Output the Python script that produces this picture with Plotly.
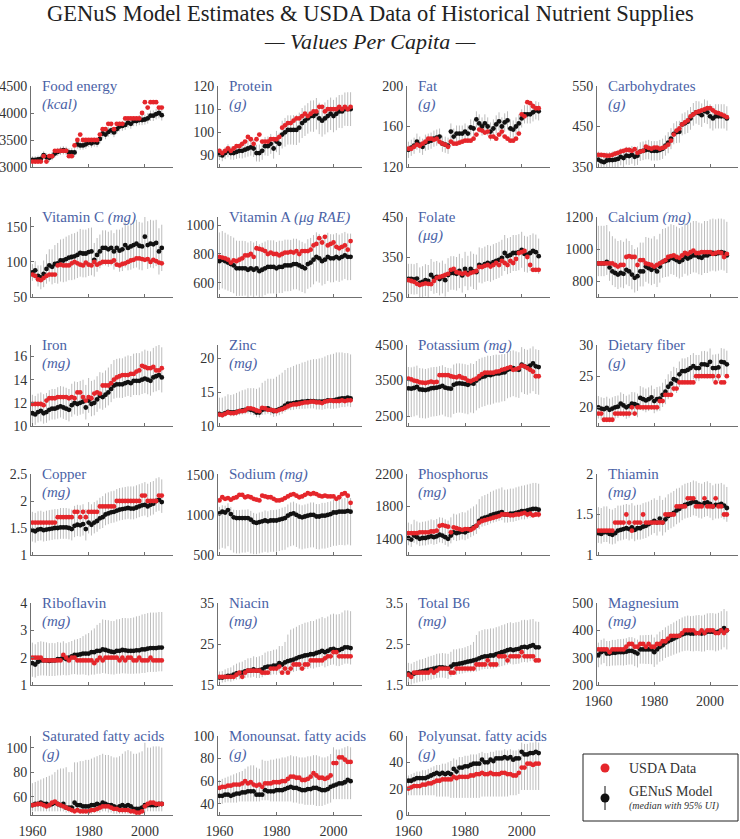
import plotly.graph_objects as go

years = list(range(1960, 2007))

# ---------------- data ----------------
food_energy_usda = [3100,3100,3100,3100,3200,3100,3200,3200,3300,3300,
                    3300,3300,3300,3200,3200,3400,3500,3600,3500,3500,
                    3500,3500,3500,3500,3600,3700,3700,3800,3800,3700,
                    3800,3800,3800,3900,3900,3900,3900,3900,3900,4000,
                    4200,4100,4200,4200,4200,4100,4100]
food_energy_med = [3130,3130,3140,3150,3220,3180,3170,3200,3250,3280,
                   3300,3310,3300,3270,3270,3270,3420,3400,3400,3420,
                   3450,3440,3460,3450,3520,3620,3600,3650,3680,3640,
                   3700,3750,3760,3780,3820,3800,3850,3850,3870,3870,
                   3880,3900,3950,3950,3980,4000,3960]
food_energy_err = [70,70,70,72,72,72,74,74,74,75,
                   75,76,76,76,78,78,80,80,80,82,
                   82,82,84,84,85,86,86,88,88,88,
                   90,90,90,92,92,92,94,94,94,95,
                   95,96,96,98,98,100,100]

protein_usda = [92,91,92,93,92,93,94,94,95,96,
                98,97,95,97,99,96,96,96,97,97,
                97,98,102,103,104,104,105,106,106,107,
                108,107,108,109,109,111,111,109,110,110,
                110,110,111,110,111,110,111]
protein_med = [90.5,90,91,92,91,91,91.5,92,92,92.5,
               93,93.5,93,91,91,92,94,94,95,93,
               96,95,99,100,101,101,101,101,102,104,
               105,106,107,107,108,106,105,106,107,108,
               107,108,109,109,110,110,110]
protein_err = [2.5,2.5,2.6,2.8,2.8,2.9,3.0,3.2,3.3,3.4,
               3.5,3.6,3.7,3.6,3.7,3.9,4.0,4.2,4.3,4.4,
               4.6,4.8,6.0,6.2,6.3,6.3,6.4,6.5,6.5,6.5,
               6.6,6.6,6.7,6.8,6.8,6.8,6.9,6.9,7.0,7.0,
               7.0,7.1,7.1,7.2,7.2,7.3,7.3]

fat_usda = [138,138,140,142,141,143,145,148,148,147,
            148,145,143,142,140,145,143,143,144,145,
            146,146,146,148,152,157,156,154,155,150,
            150,148,152,155,150,148,146,146,148,153,
            172,170,184,183,180,178,178]
fat_med = [137,139,141,145,142,140,144,145,146,148,
           149,150,143,142,141,155,150,153,153,153,
           155,153,159,158,167,163,160,163,160,155,
           158,162,165,160,164,166,158,157,160,163,
           168,172,172,172,174,176,175]
fat_err = [8,8,8,8,8,8,8,8,8,8,
           8,8,8,8,8,8,8,8,8,8,
           8,8,8,8,8,9,9,9,9,9,
           9,9,9,9,9,9,9,9,9,9,
           9,9,9,9,9,9,9]

carb_usda = [380,380,379,378,378,380,383,385,388,390,
             392,392,390,394,385,388,390,400,397,395,
             398,398,395,397,400,405,415,430,440,445,
             455,460,465,475,480,485,487,490,492,495,
             495,490,485,483,480,477,473]
carb_med = [368,364,362,366,367,367,368,370,375,372,
            378,377,380,375,378,388,390,392,393,390,
            390,390,392,395,403,410,420,432,436,437,
            455,458,462,470,480,485,483,478,488,485,
            475,470,475,475,475,475,470]
carb_err = [20,20,20,20,20,21,21,21,21,22,
            22,22,22,22,23,23,23,23,24,24,
            24,24,25,25,25,26,26,26,27,27,
            27,27,28,28,28,28,29,29,29,29,
            30,30,30,30,30,30,30]

vitc_usda = [82,80,75,74,77,80,82,82,82,95,
             96,95,95,95,98,100,98,96,95,99,
             96,95,100,96,98,100,100,100,100,102,
             96,95,97,98,100,102,103,105,105,104,
             103,104,100,103,101,99,98]
vitc_med = [85,88,80,78,83,90,95,93,97,98,
            102,102,104,106,107,108,110,113,112,112,
            114,115,103,110,115,120,120,118,120,115,
            120,116,118,124,120,122,124,126,123,122,
            136,124,126,125,127,115,120]
vitc_err = [12,13,15,17,19,21,23,25,27,29,
            30,31,32,32,33,33,33,34,34,34,
            34,34,24,24,24,25,25,25,25,26,
            26,30,31,32,32,33,33,34,34,34,
            34,34,34,34,33,33,33]

vita_usda = [780,775,770,760,740,755,750,760,770,790,
             790,800,780,840,835,830,820,800,810,800,
             800,790,800,810,810,815,810,820,800,820,
             820,820,830,860,870,910,880,920,860,870,
             880,850,840,850,860,830,890]
vita_med = [750,760,750,740,730,720,700,700,700,700,
            690,700,690,700,680,690,700,710,710,710,
            700,710,710,720,720,720,730,730,720,710,
            700,730,740,760,780,770,750,760,780,770,
            770,780,770,780,790,780,780]
vita_err = [200,200,198,196,195,194,193,192,192,190,
            190,190,190,190,188,188,187,186,185,185,
            184,183,182,180,180,178,177,176,175,175,
            174,173,172,172,171,170,170,170,168,168,
            167,166,165,165,164,163,162]

folate_usda = [292,290,288,283,280,282,284,283,282,290,
               298,300,302,305,308,318,320,312,310,308,
               310,306,310,312,315,325,325,328,330,326,
               330,335,330,340,335,330,340,335,345,360,
               362,365,350,330,318,318,318]
folate_med = [295,295,294,296,285,288,292,290,305,298,
              300,295,300,292,305,310,310,308,315,304,
              320,310,320,314,312,330,328,332,335,333,
              337,340,343,348,360,352,355,360,360,362,
              368,358,356,360,365,362,352]
folate_err = [38,38,38,39,39,39,40,40,40,40,
              40,41,41,41,42,42,42,42,43,43,
              43,43,44,44,44,44,44,44,45,45,
              45,45,45,45,45,45,45,45,45,45,
              45,45,45,45,44,44,44]

calcium_usda = [910,910,910,910,910,910,900,890,900,900,
                950,955,950,950,900,930,930,910,905,900,
                890,900,910,920,930,950,955,960,950,945,
                960,975,970,980,990,975,975,980,980,980,
                980,970,975,980,975,950,970]
calcium_med = [910,910,910,920,885,860,850,840,850,845,
               870,860,840,820,830,860,860,890,880,870,
               880,860,890,920,925,930,945,940,930,920,
               930,950,940,950,960,960,950,945,960,960,
               970,975,970,975,980,975,960]
calcium_up = [235,235,235,230,225,220,215,210,205,200,
              195,190,185,180,180,180,180,185,190,195,
              200,200,205,205,205,210,210,210,210,210,
              210,210,215,215,215,215,215,215,215,215,
              215,215,215,215,210,210,210]
calcium_dn = [80,80,80,82,84,86,88,90,90,90,
              92,92,92,92,92,94,94,95,96,96,
              98,98,100,100,100,102,102,102,104,104,
              104,105,106,106,106,108,108,108,110,110,
              110,110,110,110,110,110,110]

iron_usda = [11.9,11.9,11.9,11.9,11.8,12.2,12.4,12.4,12.4,12.5,
             12.5,12.5,12.5,12.4,12.5,12.4,12.9,12.9,12.5,12.2,
             12.5,12.4,12.8,12.9,12.8,13.5,13.5,13.5,13.7,14.0,
             14.2,14.3,14.4,14.4,14.4,14.5,14.5,14.7,14.8,15.2,
             15.1,15.0,15.0,15.1,14.8,14.8,15.0]
iron_med = [11.1,11.0,11.2,11.3,11.1,11.2,11.4,11.5,11.5,11.6,
            11.7,11.6,11.5,11.4,11.8,12.0,11.9,12.0,12.1,11.6,
            12.2,11.9,12.0,12.3,12.6,12.5,12.7,12.9,13.2,13.5,
            13.6,13.6,13.6,13.7,13.8,13.7,13.9,13.9,13.9,14.0,
            14.1,14.0,13.9,14.2,14.3,14.4,14.2]
iron_up = [1.6,1.6,1.6,1.6,1.65,1.65,1.7,1.7,1.7,1.75,
           1.75,1.8,1.8,1.8,1.85,1.85,1.9,1.9,1.9,1.95,
           1.95,2.0,2.0,2.0,2.05,2.1,2.1,2.15,2.15,2.2,
           2.2,2.25,2.25,2.3,2.3,2.35,2.35,2.4,2.4,2.45,
           2.5,2.5,2.55,2.55,2.6,2.6,2.6]
iron_dn = [0.9,0.9,0.9,0.9,0.9,0.92,0.92,0.94,0.94,0.96,
           0.96,0.98,0.98,1.0,1.0,1.0,1.02,1.02,1.04,1.04,
           1.06,1.06,1.08,1.08,1.1,1.1,1.12,1.12,1.14,1.14,
           1.16,1.16,1.18,1.18,1.2,1.2,1.22,1.22,1.24,1.24,
           1.26,1.26,1.28,1.28,1.3,1.3,1.3]

zinc_usda = [11.7,11.6,11.8,12.0,11.9,11.9,12.0,12.2,12.2,12.3,
             12.6,12.6,12.5,12.3,12.2,12.7,12.6,12.4,12.4,12.3,
             12.2,12.4,12.5,12.7,12.9,13.1,13.2,13.2,13.3,13.4,
             13.5,13.5,13.6,13.6,13.5,13.5,13.4,13.6,13.7,13.8,
             13.7,13.7,13.7,13.8,13.7,13.8,13.8]
zinc_med = [11.8,11.7,11.9,12.1,12.0,12.0,12.1,12.2,12.3,12.4,
            12.5,12.4,12.3,12.0,12.0,12.4,12.5,12.6,12.4,12.2,
            12.3,12.5,12.7,13.0,13.3,13.3,13.4,13.5,13.5,13.6,
            13.6,13.7,13.7,13.7,13.6,13.6,13.6,13.7,13.8,13.8,
            13.8,13.9,14.0,14.1,14.1,14.2,14.1]
zinc_up = [2.4,2.5,2.5,2.6,2.6,2.7,2.8,2.9,3.0,3.0,
           3.1,3.2,3.3,3.5,3.7,4.0,4.2,4.4,4.6,4.8,
           5.0,5.1,5.2,5.3,5.3,5.4,5.5,5.6,5.7,5.8,
           5.9,6.0,6.1,6.2,6.3,6.4,6.5,6.6,6.7,6.8,
           6.9,7.0,6.9,6.8,6.7,6.6,6.5]
zinc_dn = [0.5,0.5,0.5,0.5,0.55,0.55,0.6,0.6,0.6,0.65,
           0.65,0.7,0.7,0.7,0.75,0.75,0.8,0.8,0.8,0.85,
           0.85,0.9,0.9,0.9,0.95,0.95,1.0,1.0,1.0,1.05,
           1.05,1.1,1.1,1.1,1.15,1.15,1.2,1.2,1.2,1.25,
           1.25,1.3,1.3,1.3,1.3,1.3,1.3]

potassium_usda = [3550,3530,3500,3480,3450,3440,3430,3450,3470,3450,
                  3460,3650,3650,3650,3650,3620,3600,3590,3620,3580,
                  3560,3500,3480,3520,3550,3620,3680,3720,3720,3720,
                  3720,3750,3760,3800,3820,3850,3880,3800,3820,3850,
                  3920,3900,3850,3800,3750,3620,3620]
potassium_med = [3280,3270,3290,3320,3250,3240,3230,3250,3280,3290,
                 3300,3320,3350,3300,3280,3270,3380,3410,3420,3410,
                 3400,3380,3430,3410,3500,3560,3600,3620,3660,3650,
                 3680,3700,3700,3720,3730,3800,3830,3850,3820,3800,
                 3950,3900,3880,3920,3980,3900,3880]
potassium_up = [600,600,600,600,600,600,595,595,590,590,
                585,585,580,580,575,575,570,570,565,565,
                560,560,555,555,550,550,545,545,540,540,
                535,530,525,520,515,510,505,500,500,495,
                490,490,485,485,480,480,480]
potassium_dn = [800,800,800,800,800,800,800,800,800,800,
                800,800,810,810,810,810,820,820,820,820,
                830,830,830,830,840,840,840,840,840,830,
                830,820,820,810,810,800,800,790,790,790,
                780,780,780,780,780,780,780]

fiber_usda = [19,19,18,18,18,18,19,19,19,19,
              19,19,20,19,20,20,20,20,20,20,
              20,20,21,21,22,22,22,23,23,24,
              24,24,24,24,24,25,25,25,25,25,
              25,25,24,25,24,24,25]
fiber_med = [20.0,19.8,19.7,19.9,19.6,19.8,20.0,20.1,20.6,20.3,
             20.0,20.2,20.6,20.5,20.3,21.5,21.3,21.1,21.3,21.6,
             21.0,21.3,21.4,22.0,22.5,23.3,23.8,24.5,24.3,25.3,
             25.8,25.8,26.0,26.3,26.6,26.3,26.3,26.9,26.9,26.8,
             27.3,26.3,26.3,26.4,27.3,27.2,26.9]
fiber_err = [1.8,1.8,1.8,1.8,1.8,1.8,1.8,1.8,1.8,1.85,
             1.85,1.85,1.85,1.9,1.9,1.9,1.9,1.9,1.9,1.9,
             1.95,1.95,1.95,1.95,2.0,2.0,2.0,2.0,2.0,2.05,
             2.05,2.05,2.05,2.1,2.1,2.1,2.1,2.1,2.15,2.15,
             2.15,2.15,2.2,2.2,2.2,2.2,2.2]

copper_usda = [1.6,1.6,1.6,1.6,1.6,1.6,1.6,1.6,1.6,1.7,
               1.7,1.7,1.7,1.7,1.7,1.8,1.8,1.7,1.8,1.7,
               1.8,1.8,1.8,1.8,1.9,1.9,1.9,1.9,1.9,1.9,
               2.0,2.0,2.0,2.0,2.0,2.0,2.0,2.0,2.0,2.1,
               2.1,2.0,2.0,2.0,2.0,2.1,2.1]
copper_med = [1.46,1.44,1.47,1.48,1.46,1.47,1.48,1.49,1.50,1.50,
              1.51,1.51,1.51,1.50,1.48,1.54,1.56,1.55,1.57,1.48,
              1.60,1.56,1.60,1.63,1.68,1.70,1.75,1.77,1.79,1.80,
              1.82,1.84,1.85,1.86,1.87,1.86,1.86,1.88,1.90,1.92,
              1.93,1.90,1.93,1.95,2.00,2.02,1.98]
copper_up = [0.34,0.34,0.34,0.34,0.34,0.35,0.35,0.35,0.35,0.35,
             0.36,0.36,0.36,0.36,0.36,0.37,0.37,0.37,0.37,0.37,
             0.38,0.38,0.38,0.38,0.38,0.39,0.39,0.39,0.39,0.39,
             0.40,0.40,0.40,0.40,0.40,0.41,0.41,0.41,0.41,0.41,
             0.42,0.42,0.42,0.42,0.42,0.42,0.42]
copper_dn = [0.21,0.21,0.21,0.21,0.21,0.21,0.21,0.21,0.21,0.21,
             0.21,0.21,0.21,0.21,0.21,0.21,0.21,0.21,0.21,0.21,
             0.20,0.20,0.20,0.20,0.20,0.20,0.20,0.20,0.20,0.20,
             0.20,0.20,0.20,0.20,0.20,0.20,0.20,0.20,0.20,0.20,
             0.20,0.20,0.20,0.20,0.20,0.20,0.20]

sodium_usda = [1180,1220,1200,1210,1190,1210,1220,1250,1250,1220,
               1230,1220,1200,1190,1180,1240,1230,1220,1220,1200,
               1180,1180,1190,1210,1230,1250,1260,1240,1220,1230,
               1250,1270,1260,1270,1260,1240,1230,1240,1230,1230,
               1230,1200,1220,1260,1270,1240,1150]
sodium_med = [1020,1040,1030,1060,1010,970,960,960,960,960,
              960,940,910,900,910,920,930,920,930,930,
              930,940,950,960,990,1010,1020,1000,980,970,
              980,990,1000,1000,980,980,990,990,1000,1010,
              1030,1030,1040,1040,1040,1050,1040]
sodium_up = [80,80,85,85,90,95,100,100,105,105,
             110,110,115,115,120,120,125,125,130,130,
             135,135,140,140,140,145,145,145,150,150,
             150,150,155,155,155,155,160,160,160,160,
             165,165,165,165,170,170,170]
sodium_dn = [450,450,450,450,450,440,440,440,430,430,
             420,420,400,390,390,390,390,390,390,390,
             390,390,390,395,395,400,400,400,400,400,
             400,405,405,405,405,410,410,410,410,410,
             415,415,415,415,420,420,420]

phosphorus_usda = [1470,1470,1470,1470,1480,1480,1480,1480,1490,1490,
                   1500,1560,1570,1560,1550,1480,1540,1530,1520,1510,
                   1520,1520,1510,1530,1560,1600,1620,1630,1640,1650,
                   1660,1670,1680,1700,1700,1700,1690,1690,1700,1700,
                   1710,1720,1700,1710,1690,1700,1700]
phosphorus_med = [1410,1390,1440,1420,1400,1410,1410,1420,1430,1420,
                  1430,1450,1440,1420,1400,1440,1480,1470,1480,1490,
                  1480,1500,1520,1540,1560,1620,1650,1660,1670,1690,
                  1700,1710,1720,1730,1700,1700,1710,1710,1720,1730,
                  1740,1740,1750,1760,1770,1770,1760]
phosphorus_up = [190,190,195,195,200,200,205,205,210,210,
                 215,215,220,220,225,225,230,230,235,240,
                 245,250,255,260,265,270,275,280,285,290,
                 295,300,300,305,305,310,310,310,315,315,
                 315,320,320,320,320,320,320]
phosphorus_dn = [90,90,90,90,90,92,92,92,92,94,
                 94,94,94,96,96,96,96,98,98,98,
                 98,100,100,100,100,100,100,100,100,100,
                 100,100,100,100,100,100,100,100,100,100,
                 100,100,100,100,100,100,100]

thiamin_usda = [1.3,1.3,1.3,1.3,1.3,1.3,1.4,1.4,1.4,1.4,
                1.5,1.4,1.3,1.4,1.4,1.4,1.5,1.4,1.4,1.4,
                1.4,1.4,1.4,1.4,1.5,1.5,1.5,1.5,1.6,1.6,
                1.6,1.6,1.7,1.7,1.7,1.6,1.6,1.6,1.7,1.6,
                1.6,1.6,1.7,1.6,1.6,1.5,1.5]
thiamin_med = [1.27,1.26,1.28,1.28,1.26,1.25,1.27,1.30,1.31,1.32,
               1.33,1.32,1.34,1.31,1.33,1.33,1.35,1.36,1.38,1.40,
               1.42,1.40,1.45,1.40,1.44,1.48,1.50,1.52,1.55,1.57,
               1.60,1.62,1.63,1.64,1.66,1.65,1.63,1.62,1.64,1.65,
               1.63,1.60,1.62,1.62,1.63,1.61,1.58]
thiamin_up = [0.32,0.32,0.32,0.32,0.31,0.31,0.31,0.31,0.30,0.30,
              0.30,0.30,0.30,0.30,0.29,0.29,0.29,0.29,0.28,0.28,
              0.28,0.28,0.28,0.28,0.27,0.27,0.27,0.27,0.27,0.26,
              0.26,0.26,0.26,0.26,0.26,0.26,0.26,0.26,0.26,0.26,
              0.26,0.26,0.26,0.26,0.26,0.26,0.26]
thiamin_dn = [0.12,0.12,0.12,0.12,0.12,0.12,0.13,0.13,0.13,0.13,
              0.13,0.14,0.14,0.14,0.14,0.14,0.15,0.15,0.15,0.15,
              0.15,0.16,0.16,0.16,0.16,0.17,0.17,0.17,0.17,0.17,
              0.17,0.17,0.17,0.17,0.17,0.17,0.17,0.17,0.17,0.17,
              0.17,0.17,0.17,0.17,0.17,0.17,0.17]

riboflavin_usda = [2.0,2.0,2.0,2.0,1.9,1.9,1.9,1.9,1.9,1.9,
                   1.9,2.1,2.0,1.9,2.0,2.0,1.9,1.9,1.9,1.9,
                   1.9,1.9,1.8,1.9,2.0,1.9,2.0,2.0,2.0,2.0,
                   2.0,1.9,2.0,1.9,2.0,2.0,1.9,1.9,2.0,1.9,
                   1.9,1.9,2.0,1.9,1.9,1.9,1.9]
riboflavin_med = [1.8,1.75,1.85,1.9,1.9,1.9,1.88,1.9,1.9,1.95,
                  1.95,2.0,1.95,2.0,2.05,2.1,2.1,2.12,2.15,2.15,
                  2.15,2.2,2.2,2.25,2.25,2.3,2.28,2.25,2.22,2.2,
                  2.25,2.25,2.28,2.27,2.25,2.25,2.25,2.27,2.27,2.3,
                  2.3,2.33,2.35,2.35,2.35,2.37,2.37]
riboflavin_up = [0.75,0.74,0.72,0.70,0.68,0.66,0.65,0.64,0.63,0.62,
                 0.60,0.60,0.58,0.57,0.56,0.56,0.58,0.60,0.64,0.70,
                 0.75,0.80,0.87,0.95,1.02,1.10,1.10,1.12,1.12,1.14,
                 1.15,1.16,1.17,1.18,1.19,1.20,1.22,1.24,1.26,1.28,
                 1.30,1.30,1.30,1.30,1.30,1.30,1.30]
riboflavin_dn = [0.50,0.48,0.52,0.55,0.55,0.56,0.55,0.57,0.57,0.60,
                 0.60,0.63,0.60,0.64,0.66,0.70,0.72,0.74,0.76,0.78,
                 0.80,0.82,0.82,0.84,0.84,0.86,0.86,0.85,0.83,0.82,
                 0.84,0.84,0.85,0.85,0.84,0.84,0.84,0.85,0.85,0.86,
                 0.86,0.86,0.87,0.87,0.87,0.87,0.87]

niacin_usda = [17,17,17,17,17,17,17.5,18,17,18,
               18.5,18.5,18.5,18.5,18.5,18,18,18,19,19,
               19,19.5,18,19,18,19,20,20,20,19,
               20,20,21,21,21,21,21,21.5,22,22,
               23,23,22,22,22,22,22]
niacin_med = [16.8,16.8,17.0,17.2,17.2,17.5,17.8,17.9,18.0,18.3,
              18.5,18.5,18.8,18.5,18.6,18.8,19.3,19.5,19.5,19.7,
              19.7,20.3,20.0,20.5,20.8,21.0,21.2,21.5,21.8,22.0,
              22.2,22.3,22.5,22.5,22.8,23.0,23.3,23.0,23.3,23.7,
              23.8,23.5,23.5,23.8,24.2,24.2,24.0]
niacin_up = [1.5,1.6,1.8,1.9,2.1,2.3,2.4,2.6,2.7,2.8,
             3.0,3.1,3.2,3.3,3.4,3.5,3.6,3.7,3.8,3.9,
             4.0,4.2,4.5,5.0,6.5,7.5,7.6,7.7,7.8,7.9,
             8.0,8.0,8.1,8.1,8.2,8.2,8.3,8.3,8.4,8.5,
             8.6,8.7,8.8,8.9,9.0,9.0,9.0]
niacin_dn = [1.2,1.2,1.3,1.3,1.4,1.4,1.5,1.5,1.6,1.6,
             1.7,1.7,1.8,1.8,1.9,1.9,2.0,2.0,2.1,2.1,
             2.2,2.3,2.4,2.5,2.7,2.9,3.0,3.1,3.2,3.3,
             3.3,3.4,3.4,3.5,3.5,3.6,3.6,3.7,3.7,3.8,
             3.8,3.8,3.9,3.9,4.0,4.0,4.0]

b6_usda = [1.75,1.7,1.8,1.8,1.8,1.8,1.8,1.8,1.85,1.8,
           1.85,1.9,1.9,1.9,1.9,1.8,1.8,1.9,1.9,1.9,
           1.9,1.9,1.9,1.9,2.0,2.0,2.0,2.0,2.1,2.0,
           2.0,2.0,2.2,2.2,2.2,2.1,2.2,2.2,2.2,2.2,
           2.3,2.2,2.2,2.2,2.2,2.1,2.1]
b6_med = [1.78,1.75,1.78,1.8,1.82,1.83,1.85,1.87,1.88,1.9,
          1.92,1.93,1.93,1.92,1.9,1.95,2.0,2.0,2.02,2.03,
          2.05,2.07,2.08,2.1,2.12,2.15,2.18,2.2,2.2,2.22,
          2.22,2.25,2.27,2.3,2.32,2.35,2.37,2.35,2.37,2.38,
          2.42,2.43,2.42,2.45,2.47,2.42,2.42]
b6_up = [0.26,0.27,0.28,0.29,0.30,0.30,0.31,0.32,0.33,0.33,
         0.34,0.34,0.35,0.35,0.36,0.36,0.37,0.37,0.37,0.37,
         0.37,0.38,0.40,0.45,0.60,0.66,0.66,0.66,0.66,0.66,
         0.66,0.66,0.66,0.66,0.66,0.66,0.66,0.66,0.66,0.66,
         0.66,0.66,0.66,0.65,0.64,0.63,0.62]
b6_dn = [0.24,0.24,0.24,0.24,0.24,0.24,0.24,0.25,0.25,0.25,
         0.25,0.25,0.25,0.25,0.25,0.25,0.25,0.25,0.25,0.25,
         0.25,0.26,0.27,0.28,0.29,0.30,0.30,0.31,0.31,0.32,
         0.32,0.33,0.33,0.34,0.34,0.35,0.35,0.35,0.36,0.36,
         0.37,0.37,0.37,0.37,0.37,0.37,0.37]

magnesium_usda = [330,330,330,330,320,330,330,330,330,330,
                  340,350,350,340,340,350,350,340,350,340,
                  340,350,350,360,360,370,380,380,380,380,
                  390,400,400,400,400,390,390,400,390,400,
                  400,400,390,390,400,390,400]
magnesium_med = [310,320,325,315,315,318,318,320,320,320,
                 322,325,325,320,315,330,330,330,330,330,
                 320,330,340,345,355,360,365,370,375,380,
                 385,388,390,388,388,390,390,388,390,395,
                 395,395,392,395,400,408,400]
magnesium_err = [45,45,45,46,46,47,47,48,48,49,
                 49,50,50,51,51,52,52,53,53,54,
                 54,55,55,56,56,57,58,59,60,61,
                 62,63,64,64,65,65,66,66,67,67,
                 68,68,69,69,70,70,70]

satfat_usda = [53,53.5,54,54,53,52,53,55,56,54,
               53,52,51,50,49,48,49,48,48,48,
               48,49,49,50,51,52,52,52,51,50,
               50,49,49,49,49,48,48,47,47,48,
               52,54,55,55,54,54,54]
satfat_med = [53,54,54,55,54,54,53,54,55,54,
              53,54,51,51,51,55,53,53,52,52,
              52,53,53,54,53,55,54,53,53,52,
              51,52,53,52,53,52,50,50,50,51,
              53,53,53,53,53,54,54]
satfat_ui_hi = [71,72,73,74,75,76,77,78,80,82,
                83,83,84,80,80,88,88,89,89,90,
                90,91,92,93,94,95,94,94,93,92,
                92,93,95,97,98,97,95,95,96,97,
                104,100,100,101,101,101,100]
satfat_ui_lo = [48,48,48,48,48,48,48,48,48,48,
                48,48,47,47,47,47,47,46,46,46,
                46,46,47,47,47,48,48,47,47,46,
                46,46,46,46,46,46,45.5,45.5,45.5,46,
                47,48,48,48,48,48,48]

mufa_usda = [54,55,55,56,56,57,57,57,58,60,
             58,59,57,56,57,55,58,58,58,59,
             59,59,60,60,62,64,64,63,63,61,
             61,62,64,67,65,63,63,62,63,65,
             76,76,81,81,79,77,77]
mufa_med = [47,47,48,48,47,48,49,49,50,50,
            51,51,51,48,48,48,52,51,51,51,
            52,52,52,53,54,55,54,54,53,52,
            52,53,53,54,54,53,52,52,53,55,
            56,57,58,58,59,61,60]
mufa_ui_hi = [61,62,63,64,65,66,67,68,69,71,
              73,74,74,72,71,79,78,78,79,79,
              80,80,81,81,82,83,82,82,81,81,
              81,82,82,83,83,82,81,81,82,84,
              90,88,88,89,90,91,90]
mufa_ui_lo = [40,40,41,41,41,41,41,42,42,42,
              42,42,42,42,42,43,43,43,42,42,
              42,42,42,42,42,42,41,41,40,40,
              39,39,39,39,38,38,38,39,40,41,
              44,44,44,44,44,44,44]

pufa_usda = [20,21,22,22,22,23,23,24,24,25,
             26,26,27,27,27,27,29,28,29,29,
             29,29,30,30,31,31,32,31,31,32,
             31,31,31,32,32,31,31,30,30,32,
             36,36,39,39,38,39,39]
pufa_med = [26,26,27,28,28,28,28,29,30,31,
            32,31,32,31,32,31,35,33,36,36,
            37,37,38,39,39,39,42,40,40,42,
            41,43,43,43,44,43,44,42,43,43,
            48,46,46,47,47,48,47]
pufa_ui_hi = [30,31,32,33,33,34,34,35,36,37,
              38,38,39,39,40,41,43,42,44,44,
              45,45,46,46,46,47,48,47,47,48,
              48,49,49,49,50,49,50,49,49,50,
              55,54,54,55,55,56,55]
pufa_ui_lo = [15,15,15,15,15,15,15,15,15,15,
              14,14,14,14,14,13,13,13,13,13,
              13,13,13,13,13,13,14,14,14,14,
              14,14,14,14,14,14,15,15,15,16,
              19,19,19,19,19,19,19]

satfat_up = [h - m for h, m in zip(satfat_ui_hi, satfat_med)]
satfat_dn = [m - l for m, l in zip(satfat_med, satfat_ui_lo)]
mufa_up = [h - m for h, m in zip(mufa_ui_hi, mufa_med)]
mufa_dn = [m - l for m, l in zip(mufa_med, mufa_ui_lo)]
pufa_up = [h - m for h, m in zip(pufa_ui_hi, pufa_med)]
pufa_dn = [m - l for m, l in zip(pufa_med, pufa_ui_lo)]

panel_names = ["Food energy", "Protein", "Fat", "Carbohydrates",
               "Vitamin C", "Vitamin A", "Folate", "Calcium",
               "Iron", "Zinc", "Potassium", "Dietary fiber",
               "Copper", "Sodium", "Phosphorus", "Thiamin",
               "Riboflavin", "Niacin", "Total B6", "Magnesium",
               "Saturated fatty acids", "Monounsat. fatty acids", "Polyunsat. fatty acids"]
panel_units = ["(kcal)", "(g)", "(g)", "(g)",
               "(mg)", "(μg RAE)", "(μg)", "(mg)",
               "(mg)", "(mg)", "(mg)", "(g)",
               "(mg)", "(mg)", "(mg)", "(mg)",
               "(mg)", "(mg)", "(mg)", "(mg)",
               "(g)", "(g)", "(g)"]
unit_inline = [False, False, False, False,
               True, True, False, True,
               False, False, True, False,
               False, True, False, False,
               False, False, False, False,
               False, False, False]
panel_yticks = [[3000, 3500, 4000, 4500], [90, 100, 110, 120], [120, 160, 200], [350, 450, 550],
                [50, 100, 150], [600, 800, 1000], [250, 350, 450], [800, 1000, 1200],
                [10, 12, 14, 16], [10, 15, 20], [2500, 3500, 4500], [20, 25, 30],
                [1, 1.5, 2, 2.5], [500, 1000, 1500], [1400, 1800, 2200], [1, 1.5, 2],
                [1, 2, 3, 4], [15, 25, 35], [1.5, 2.5, 3.5], [200, 300, 400, 500],
                [60, 80, 100], [40, 60, 80, 100], [0, 20, 40, 60]]
panel_yrange = [[3000, 4500], [85, 120], [120, 200], [350, 550],
                [50, 164], [500, 1058], [250, 450], [700, 1200],
                [10, 17], [10, 22], [2220, 4500], [17, 30],
                [1, 2.5], [500, 1510], [1200, 2200], [1, 2],
                [1, 4], [15, 35], [1.5, 3.5], [200, 500],
                [45, 109.5], [30, 100], [0, 60]]
x_ticks = [1960, 1980, 2000]

series = [
    (food_energy_usda, food_energy_med, food_energy_err, food_energy_err),
    (protein_usda, protein_med, protein_err, protein_err),
    (fat_usda, fat_med, fat_err, fat_err),
    (carb_usda, carb_med, carb_err, carb_err),
    (vitc_usda, vitc_med, vitc_err, vitc_err),
    (vita_usda, vita_med, vita_err, vita_err),
    (folate_usda, folate_med, folate_err, folate_err),
    (calcium_usda, calcium_med, calcium_up, calcium_dn),
    (iron_usda, iron_med, iron_up, iron_dn),
    (zinc_usda, zinc_med, zinc_up, zinc_dn),
    (potassium_usda, potassium_med, potassium_up, potassium_dn),
    (fiber_usda, fiber_med, fiber_err, fiber_err),
    (copper_usda, copper_med, copper_up, copper_dn),
    (sodium_usda, sodium_med, sodium_up, sodium_dn),
    (phosphorus_usda, phosphorus_med, phosphorus_up, phosphorus_dn),
    (thiamin_usda, thiamin_med, thiamin_up, thiamin_dn),
    (riboflavin_usda, riboflavin_med, riboflavin_up, riboflavin_dn),
    (niacin_usda, niacin_med, niacin_up, niacin_dn),
    (b6_usda, b6_med, b6_up, b6_dn),
    (magnesium_usda, magnesium_med, magnesium_err, magnesium_err),
    (satfat_usda, satfat_med, satfat_up, satfat_dn),
    (mufa_usda, mufa_med, mufa_up, mufa_dn),
    (pufa_usda, pufa_med, pufa_up, pufa_dn),
]

for k, s in enumerate(series):
    for arr in s:
        if len(arr) != len(years):
            raise ValueError(f"panel {panel_names[k]} has a list of length {len(arr)}")

# ---------------- layout geometry (pixels) ----------------
W, H = 740, 839
COL_X0 = [31, 218, 407, 597]
COL_X1 = [173, 362, 550, 738]
ROW_T = [86, 217, 345, 474, 603, 736]
ROW_B = [167, 297, 426, 555, 685, 815]

FONT = "Liberation Serif, Times New Roman, DejaVu Serif, serif"
BLUE = "#4a62a6"
RED = "#e5262b"
BLACK = "#111111"
GRAY = "#bcbcbc"
AXIS = "#707070"

def px(x):
    return x / W

def py(y):
    return 1 - y / H

fig = go.Figure()
layout = dict(template="none", width=W, height=H,
              margin=dict(l=0, r=0, t=0, b=0, pad=0, autoexpand=False),
              paper_bgcolor="white", plot_bgcolor="white", showlegend=False,
              font=dict(family=FONT, size=14, color="#333333"))
annotations = []
shapes = []

label_bottom = {19, 20, 21, 22}

for i, (usda, med, up, dn) in enumerate(series):
    r, c = divmod(i, 4)
    n = i + 1
    xa = "x" if n == 1 else f"x{n}"
    ya = "y" if n == 1 else f"y{n}"
    fig.add_trace(go.Scatter(
        x=years, y=med, xaxis=xa, yaxis=ya, mode="markers",
        marker=dict(color=BLACK, size=4.8, line=dict(width=0)),
        error_y=dict(type="data", symmetric=False, array=up, arrayminus=dn,
                     color=GRAY, thickness=1, width=0),
        cliponaxis=False))
    fig.add_trace(go.Scatter(
        x=years, y=usda, xaxis=xa, yaxis=ya, mode="markers",
        marker=dict(color=RED, size=4.8, line=dict(width=0)), cliponaxis=False))
    xkey = "xaxis" if n == 1 else f"xaxis{n}"
    ykey = "yaxis" if n == 1 else f"yaxis{n}"
    layout[xkey] = dict(domain=[px(COL_X0[c]), px(COL_X1[c])], anchor=ya,
                        range=[1959.5, 2010], tickvals=x_ticks,
                        ticktext=[str(t) for t in x_ticks],
                        showticklabels=(i in label_bottom), automargin=False,
                        ticks="inside", ticklen=3, tickcolor=AXIS,
                        ticklabelstandoff=3,
                        showline=True, linecolor=AXIS, linewidth=1,
                        showgrid=False, zeroline=False,
                        tickfont=dict(family=FONT, size=14, color="#333333"))
    yt = panel_yticks[i]
    layout[ykey] = dict(domain=[py(ROW_B[r]), py(ROW_T[r])], anchor=xa,
                        range=panel_yrange[i], tickvals=yt,
                        ticktext=[("%g" % t) for t in yt], automargin=False,
                        ticks="inside", ticklen=3, tickcolor=AXIS,
                        showline=True, linecolor=AXIS, linewidth=1,
                        showgrid=False, zeroline=False,
                        tickfont=dict(family=FONT, size=14, color="#333333"))
    tx = px(COL_X0[c] + 9)
    if unit_inline[i]:
        annotations.append(dict(xref="paper", yref="paper", x=tx, y=py(ROW_T[r]),
                                xanchor="left", yanchor="middle", showarrow=False,
                                text=f"{panel_names[i]} <i>{panel_units[i]}</i>",
                                font=dict(family=FONT, size=15, color=BLUE)))
    else:
        annotations.append(dict(xref="paper", yref="paper", x=tx, y=py(ROW_T[r]),
                                xanchor="left", yanchor="middle", showarrow=False,
                                text=panel_names[i],
                                font=dict(family=FONT, size=15, color=BLUE)))
        annotations.append(dict(xref="paper", yref="paper", x=tx, y=py(ROW_T[r] + 18),
                                xanchor="left", yanchor="middle", showarrow=False,
                                text=f"<i>{panel_units[i]}</i>",
                                font=dict(family=FONT, size=15, color=BLUE)))

# titles
annotations.append(dict(xref="paper", yref="paper", x=0.5, y=py(14), xanchor="center",
                        yanchor="middle", showarrow=False,
                        text="GENuS Model Estimates &amp; USDA Data of Historical Nutrient Supplies",
                        font=dict(family=FONT, size=22.5, color="#222222")))
annotations.append(dict(xref="paper", yref="paper", x=0.5, y=py(42), xanchor="center",
                        yanchor="middle", showarrow=False,
                        text="<i>— Values Per Capita —</i>",
                        font=dict(family=FONT, size=22, color="#222222")))

# legend box
shapes.append(dict(type="rect", xref="paper", yref="paper",
                   x0=px(583), x1=px(738), y0=py(821), y1=py(754),
                   line=dict(color="#222222", width=1), fillcolor="white"))
shapes.append(dict(type="circle", xref="paper", yref="paper",
                   x0=px(600.5), x1=px(609.5), y0=py(772.5), y1=py(763.5),
                   line=dict(color=RED, width=0), fillcolor=RED))
shapes.append(dict(type="line", xref="paper", yref="paper",
                   x0=px(605), x1=px(605), y0=py(810), y1=py(786),
                   line=dict(color=BLACK, width=1)))
shapes.append(dict(type="circle", xref="paper", yref="paper",
                   x0=px(600.5), x1=px(609.5), y0=py(802.5), y1=py(793.5),
                   line=dict(color=BLACK, width=0), fillcolor=BLACK))
annotations.append(dict(xref="paper", yref="paper", x=px(627), y=py(768),
                        xanchor="left", yanchor="middle", showarrow=False,
                        text="USDA Data", font=dict(family=FONT, size=14, color="#333333")))
annotations.append(dict(xref="paper", yref="paper", x=px(627), y=py(791),
                        xanchor="left", yanchor="middle", showarrow=False,
                        text="GENuS Model", font=dict(family=FONT, size=14, color="#333333")))
annotations.append(dict(xref="paper", yref="paper", x=px(627), y=py(806),
                        xanchor="left", yanchor="middle", showarrow=False,
                        text="<i>(median with 95% UI)</i>",
                        font=dict(family=FONT, size=10, color="#333333")))

layout["annotations"] = annotations
layout["shapes"] = shapes
fig.update_layout(**layout)
fig.write_html("out.html",
               config={"displayModeBar": False, "staticPlot": True},
               post_script="document.body.style.margin='0px';"
                           "document.body.style.overflow='hidden';")
